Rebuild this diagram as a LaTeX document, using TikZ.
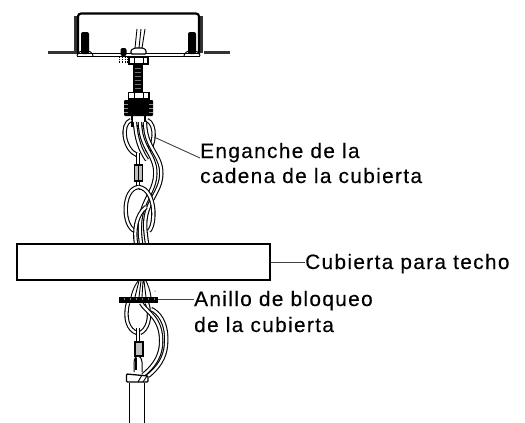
\documentclass[tikz,border=0pt]{standalone}
\usepackage{fontspec}
\setmainfont[LetterSpace=6.5,FakeBold=0.25]{Liberation Sans}
\usetikzlibrary{calc}
\tikzset{
  x=1pt,y=-1pt,
  ln/.style={draw=black,line width=1pt},
  thick ln/.style={draw=black,line width=2.2pt},
  thin ln/.style={draw=black,line width=.9pt},
  leader/.style={draw=black!75,line width=.9pt},
  wire/.style={draw=black,line width=1.1pt,double=white,double distance=2.2pt},
  hatch/.style={draw=black!80,line width=3.2pt},
  lab/.style={inner sep=0pt,font=\fontsize{20.8}{21}\selectfont,anchor=base west},
  white part/.style={fill=white,draw=black,line width=1.1pt}
}
\begin{document}
\begin{tikzpicture}
\useasboundingbox (0,0) rectangle (525,423);
% ceiling hatch
\draw[hatch] (48,52.5)--(78,52.5);
\draw[hatch] (204,52.5)--(230,52.5);
\draw[hatch] (75.5,16)--(75.5,53);
\draw[hatch] (201.5,16)--(201.5,53);
% box
\draw[thick ln,rounded corners=3pt] (78,54)--(78,13.5)--(199,13.5)--(199,54);
\draw[ln] (77,53.5)--(200,53.5);
\draw[ln] (77,56)--(200,56);
% screws
\foreach \c in {85,192}{
  \fill[black,rounded corners=2pt] (\c-4,32) rectangle (\c+4,54);
  \draw[ln] (\c-8,56) arc[start angle=180,end angle=360,x radius=8,y radius=5.5];
}
% wires into box
\draw[thin ln] (137,29)--(135,48) (141,29)--(139,48) (145,29)--(142,48);
% collar and nut
\draw[white part,rounded corners=1pt] (131,54)--(131,50)--(135,48)--(143,48)--(146,50)--(146,54)--cycle;
\draw[white part] (129,57) rectangle (148,64);
\draw[ln] (134,57)--(134,64) (143,57)--(143,64);
% small screw
\fill[black,rounded corners=2pt] (120.5,48) rectangle (126.5,56);
\draw[black,line width=1pt,dash pattern=on 1pt off .8pt] (119,57)--(119,64) (122,57)--(122,64) (125,57)--(125,64) (127.5,57)--(127.5,64);
% threaded rod
\fill[black] (133,64) rectangle (143,92);
\foreach \y in {68,72,...,90}{\draw[black!55,line width=.3pt] (135,\y)--(141,\y);}
% lower nut
\draw[white part] (128.5,92.5) rectangle (149,99);
\draw[ln] (134,92.5)--(134,99) (143,92.5)--(143,99);
% upper loop of chain
\draw[white part,fill=white] (132,116)--(132,126)--(145,126)--(145,116);
\draw[wire] (131,120) .. controls (120,124) and (124,150) .. (137,155);
\draw[wire] (147,120) .. controls (157,124) and (155,148) .. (146,152);
\draw[wire] (138,153)--(138,167);
\draw[wire] (135,122) .. controls (136,138) and (140,150) .. (147,160);
\draw[wire] (140,122) .. controls (140,150) and (158,155) .. (155,178) .. controls (153,192) and (144,200) .. (141,216) .. controls (139,226) and (140,235) .. (141,244);
\draw[wire] (145,122) .. controls (145,150) and (164,155) .. (161,178) .. controls (159,192) and (149,200) .. (146,216) .. controls (144,226) and (146,235) .. (147,244);
% dark cap
\fill[black,rounded corners=1pt] (124,100) rectangle (153,116);
\foreach \y in {104,108,112}{\draw[black!45,line width=.3pt] (124,\y)--(128,\y) (149,\y)--(153,\y);}
% lower oval of first chain
\draw[wire] (138,181)--(138,190);
\draw[wire] (139,187) .. controls (122,188) and (122,226) .. (135,231);
\draw[wire] (139,187) .. controls (156,190) and (156,224) .. (149,231);
\draw[wire] (146,207) .. controls (136,215) and (134,230) .. (136,244);
% connector
\draw[white part,fill=black!25] (134.5,165) rectangle (142.5,181);
\draw[ln] (138.5,165)--(138.5,181);
% canopy
\node[draw=black,line width=1.1pt,minimum width=253pt,minimum height=36pt,inner sep=0pt] (canopy) at (143.5,262) {};
% below the canopy
\draw[thin ln] (131,297) .. controls (133,288) and (136,284) .. (138,281);
\draw[thin ln] (135,297)--(139,281) (139,297)--(141,281) (142,297)--(143,281) (146,297)--(144,281);
\draw[thin ln] (151,297) .. controls (150,290) and (148,285) .. (146,281);
\draw[wire] (128,303) .. controls (124,318) and (128,330) .. (137,333);
\draw[wire] (147,303) .. controls (152,318) and (147,330) .. (140,333);
\draw[wire] (138,328)--(138,343);
\draw[wire] (141,303) .. controls (146,312) and (163,318) .. (161,345) .. controls (160,358) and (152,368) .. (143,375);
\draw[wire] (151,309) .. controls (158,312) and (168,322) .. (166,345) .. controls (165,358) and (158,368) .. (148,376);
% connector and small link
\draw[white part,fill=black!25] (135,342) rectangle (143,356);
\draw[ln,fill=white] (134,372) -- (134,362) .. controls (135,354) and (141,354) .. (142,362) -- (142,372);
\draw[line width=1.6pt] (136,358)--(136,370);
% collar and tube
\draw[thin ln] (129,383)--(129,423);
\draw[thin ln] (144,383)--(144,423);
\draw[white part,rounded corners=1pt,line width=1.3pt] (126.5,374)--(148,376)--(148,382)--(126.5,382)--cycle;
\draw[thin ln] (138,382)--(142,375) (143,382)--(147,376);
% ring
\fill[black] (119,297) rectangle (158,303);
\foreach \x in {124,130,...,155}{\draw[black!50,line width=.3pt] (\x,298)--(\x,300);}
\coordinate (ring) at (158,299.5);
\coordinate (hook) at (154,137);
\coordinate (dot) at (155,291);
\fill[black] (dot) circle (.5);
% labels
\node[lab] (enganche) at (200,158) {Enganche de la};
\node[lab] (cadena) at (200,183) {cadena de la cubierta};
\node[lab] (cubierta) at (305,269) {Cubierta para techo};
\node[lab] (anillo) at (194,306) {Anillo de bloqueo};
\node[lab] (dela) at (194,332) {de la cubierta};
% leaders
\draw[leader] (hook)--(enganche.base west);
\draw[leader] (canopy.east)--(canopy.east -| cubierta.west);
\draw[leader] (ring)--(ring -| anillo.west);
\end{tikzpicture}
\end{document}
